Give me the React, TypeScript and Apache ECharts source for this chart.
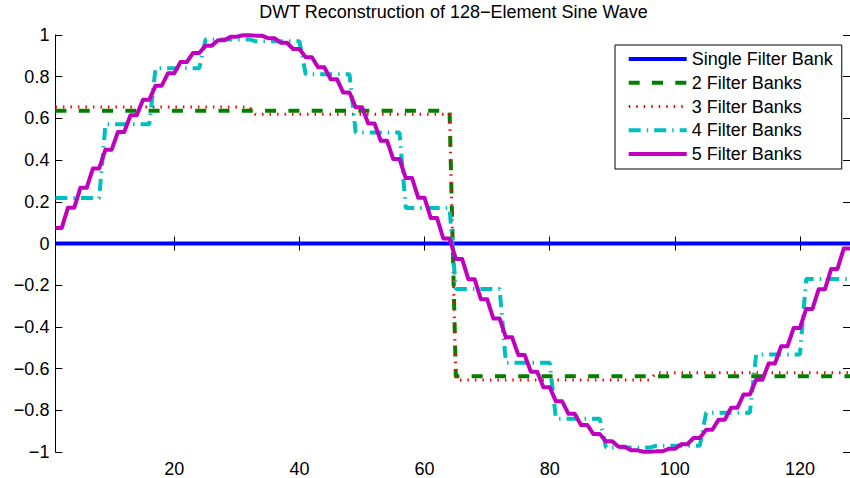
import React, { useEffect, useRef } from "react";
import * as echarts from "echarts";

// Sample count (x runs 1..128)
const sampleCount = 128;

// Single Filter Bank: flat at zero
const singleBank = [0];
// 2 Filter Banks: two 64-sample blocks
const twoBanks = [0.637, -0.637];
// 3 Filter Banks: four 32-sample blocks
const threeBanks = [0.655, 0.62, -0.655, -0.62];
// 4 Filter Banks: sixteen 8-sample blocks
const fourBanks = [
  0.218, 0.572, 0.84, 0.979, 0.97, 0.812, 0.532, 0.17,
  -0.218, -0.572, -0.84, -0.979, -0.97, -0.812, -0.532, -0.17,
];
// 5 Filter Banks: sixty-four 2-sample blocks
const fiveBanks = [
  0.074, 0.171, 0.267, 0.36, 0.45, 0.535, 0.615, 0.689,
  0.757, 0.817, 0.87, 0.914, 0.949, 0.975, 0.992, 0.999,
  0.997, 0.985, 0.963, 0.933, 0.893, 0.845, 0.788, 0.724,
  0.653, 0.576, 0.493, 0.405, 0.314, 0.219, 0.122, 0.024,
  -0.074, -0.171, -0.267, -0.36, -0.45, -0.535, -0.615, -0.689,
  -0.757, -0.817, -0.87, -0.914, -0.949, -0.975, -0.992, -0.999,
  -0.997, -0.985, -0.963, -0.933, -0.893, -0.845, -0.788, -0.724,
  -0.653, -0.576, -0.493, -0.405, -0.314, -0.219, -0.122, -0.024,
];

const seriesNames = [
  "Single Filter Bank",
  "2 Filter Banks",
  "3 Filter Banks",
  "4 Filter Banks",
  "5 Filter Banks",
];
const xTicks = [20, 40, 60, 80, 100, 120];
const titleText = "DWT Reconstruction of 128\u2212Element Sine Wave";

const FONT = "'Liberation Sans', Arial, Helvetica, sans-serif";

const lineStyles: any[] = [
  { color: "#0000ff", width: 4, type: "solid" },
  { color: "#008000", width: 4, type: [11, 12.3], cap: "butt" },
  { color: "#ff0000", width: 3, type: [1.5, 6], cap: "butt" },
  { color: "#00bfbf", width: 4, type: [12, 6, 1.5, 6], cap: "butt" },
  { color: "#bf00bf", width: 4, type: "solid", join: "round" },
];

function expand(blocks: number[]): number[][] {
  const per = sampleCount / blocks.length;
  const out: number[][] = [];
  for (let i = 0; i < sampleCount; i++) {
    out.push([i + 1, blocks[Math.floor(i / per)]]);
  }
  return out;
}

function fmtY(v: number): string {
  const r = Number(v.toFixed(1));
  if (r === 0) return "0";
  return r < 0 ? "\u2212" + String(Math.abs(r)) : String(r);
}

export default function App() {
  const ref = useRef<HTMLDivElement>(null);

  useEffect(() => {
    if (!ref.current) return;
    const chart = echarts.init(ref.current, undefined, { renderer: "svg" });

    const axisLine = { show: true, lineStyle: { color: "#000", width: 1 } };
    const tick = { show: true, inside: true, length: 7, lineStyle: { color: "#000", width: 1 } };
    const blockData = [singleBank, twoBanks, threeBanks, fourBanks, fiveBanks];

    const option: any = {
      animation: false,
      backgroundColor: "#fff",
      textStyle: { fontFamily: FONT },
      graphic: [
        {
          type: "text",
          x: 453.5,
          y: 3,
          style: {
            text: titleText,
            fill: "#000",
            font: `18px ${FONT}`,
            textAlign: "center",
            textVerticalAlign: "top",
          },
        },
      ],
      grid: { left: 55.4, right: -8.2, top: 35, bottom: 26, containLabel: false },
      legend: {
        show: true,
        orient: "vertical",
        left: 615,
        top: 45,
        padding: [5, 9, 6, 11.7],
        itemWidth: 58,
        itemHeight: 18,
        itemGap: 5.75,
        backgroundColor: "#fff",
        borderColor: "#000",
        borderWidth: 1,
        borderRadius: 0,
        selectedMode: false,
        itemStyle: { opacity: 0, borderWidth: 0 },
        textStyle: { fontFamily: FONT, fontSize: 18, color: "#000", padding: [0, 0, 0, 0] },
        data: seriesNames.map((name, i) => ({
          name,
          lineStyle: { width: lineStyles[i].width },
        })),
      },
      xAxis: [
        {
          type: "value",
          position: "bottom",
          min: 1,
          max: 128,
          axisLine,
          axisTick: { ...tick, customValues: xTicks },
          axisLabel: {
            show: true,
            customValues: xTicks,
            color: "#000",
            fontSize: 18,
            fontFamily: FONT,
            margin: 8,
          },
          splitLine: { show: false },
        },
        {
          type: "value",
          position: "top",
          min: 1,
          max: 128,
          axisLine,
          axisTick: { ...tick, customValues: xTicks },
          axisLabel: { show: false, customValues: xTicks },
          splitLine: { show: false },
        },
      ],
      yAxis: [
        {
          type: "value",
          position: "left",
          min: -1,
          max: 1,
          interval: 0.2,
          axisLine,
          axisTick: tick,
          axisLabel: {
            show: true,
            color: "#000",
            fontSize: 18,
            fontFamily: FONT,
            margin: 6,
            formatter: fmtY,
          },
          splitLine: { show: false },
        },
        {
          type: "value",
          position: "right",
          min: -1,
          max: 1,
          interval: 0.2,
          axisLine,
          axisTick: tick,
          axisLabel: { show: false },
          splitLine: { show: false },
        },
      ],
      series: seriesNames.map((name, i) => ({
        name,
        type: "line",
        data: expand(blockData[i]),
        symbol: "none",
        lineStyle: lineStyles[i],
        itemStyle: { color: lineStyles[i].color },
      })),
    };

    chart.setOption(option);
    return () => {
      chart.dispose();
    };
  }, []);

  return <div ref={ref} style={{ width: 850, height: 478, position: "absolute", left: 0, top: 0 }} />;
}
